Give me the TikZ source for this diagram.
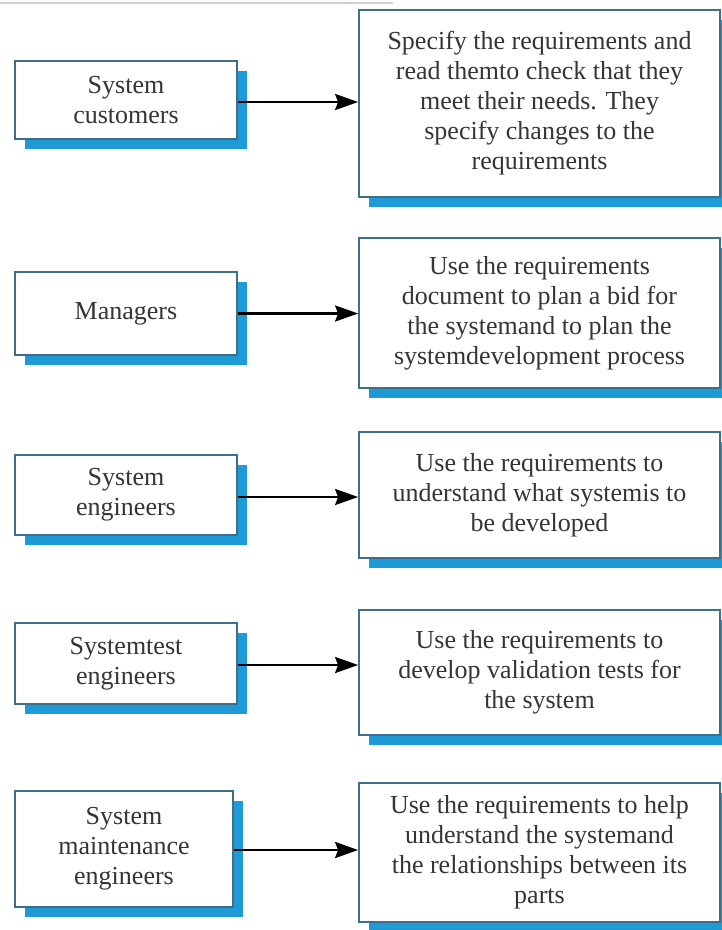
\documentclass[tikz,border=0pt]{standalone}
\usepackage{fontspec}
\setmainfont{Liberation Serif}
\usetikzlibrary{shadows,arrows.meta}

\definecolor{boxline}{HTML}{3E6E8A}
\definecolor{boxshadow}{HTML}{1E9BD7}
\definecolor{ink}{HTML}{353535}
\definecolor{rule}{HTML}{CFCFCF}

\tikzset{
  rolebox/.style={
    draw=boxline, line width=1.8pt, fill=white, rectangle,
    general shadow={fill=boxshadow, draw=none, shadow xshift=10pt, shadow yshift=-10pt},
    align=center, text=ink, inner sep=4pt,
    font=\fontsize{26}{30}\selectfont
  },
  usebox/.style={rolebox, minimum width=361pt},
  whobox/.style={rolebox},
  flow/.style={draw=black, line width=2.6pt,
    -{Stealth[length=23pt, width=16pt, inset=3pt]}}
}

\begin{document}
\begin{tikzpicture}[x=1pt, y=-1pt]
\useasboundingbox (0,0) rectangle (722,930);
\fill[white] (0,0) rectangle (722,930);

% thin rule along the upper edge
\draw[rule, line width=2pt] (0,3) -- (393,3);

% readers of the requirements document
\node[whobox, minimum width=222pt, minimum height=78pt]  (who1) at (126,100)   {System\\customers};
\node[whobox, minimum width=222pt, minimum height=83pt]  (who2) at (126,313.5) {Managers};
\node[whobox, minimum width=222pt, minimum height=80pt]  (who3) at (126,495)   {System\\engineers};
\node[whobox, minimum width=222pt, minimum height=81pt]  (who4) at (126,663.5) {Systemtest\\engineers};
\node[whobox, minimum width=218pt, minimum height=116pt] (who5) at (124,849)   {System\\maintenance\\engineers};

% how each reader uses it
\node[usebox, minimum height=187pt] (use1) at (539.5,103.5) {Specify the requirements and\\read themto check that they\\meet their needs. They\\specify changes to the\\requirements};
\node[usebox, minimum height=150pt] (use2) at (539.5,313) {Use the requirements\\document to plan a bid for\\the systemand to plan the\\systemdevelopment process};
\node[usebox, minimum height=126pt] (use3) at (539.5,495) {Use the requirements to\\understand what systemis to\\be developed};
\node[usebox, minimum height=125pt] (use4) at (539.5,672.5) {Use the requirements to\\develop validation tests for\\the system};
\node[usebox, minimum height=139pt] (use5) at (539.5,852.5) {Use the requirements to help\\understand the systemand\\the relationships between its\\parts};

% connectors
\draw[flow] ([yshift=-2pt]who1.east) -- ([yshift=-2pt]who1.east -| use1.west);
\draw[flow] (who2.east) -- (who2.east -| use2.west);
\draw[flow] ([yshift=-2pt]who3.east) -- ([yshift=-2pt]who3.east -| use3.west);
\draw[flow] ([yshift=-1.5pt]who4.east) -- ([yshift=-1.5pt]who4.east -| use4.west);
\draw[flow] ([yshift=-1pt]who5.east) -- ([yshift=-1pt]who5.east -| use5.west);
\end{tikzpicture}
\end{document}
